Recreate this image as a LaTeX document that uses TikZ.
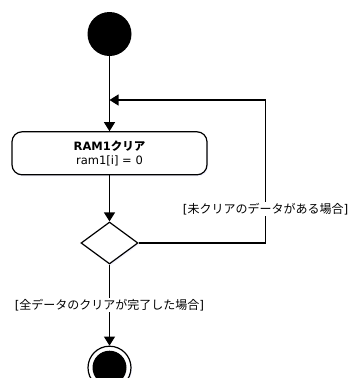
\documentclass[tikz,border=0pt]{standalone}
\usepackage{fontspec}
\setmainfont{DejaVu Sans}
\newfontfamily\jpfont{Noto Sans CJK JP}
\usetikzlibrary{positioning,shapes.geometric,arrows.meta,shadows}

\tikzset{
  glow/.style={drop shadow={shadow xshift=1pt, shadow yshift=-1.5pt, opacity=0.35, fill=blue!15}},
  startdot/.style={circle, fill=black, inner sep=0pt, minimum size=44pt},
  endring/.style={circle, draw, line width=1.2pt, fill=white, inner sep=0pt, minimum size=43pt, glow},
  enddot/.style={circle, fill=black, inner sep=0pt, minimum size=34pt},
  action/.style={draw, line width=1.2pt, fill=white, rounded corners=10pt, minimum width=195pt,
    minimum height=43pt, align=center, font=\fontsize{11.5}{14}\selectfont, glow},
  decision/.style={diamond, draw, line width=1.2pt, fill=white, inner sep=0pt, minimum width=57pt,
    minimum height=42pt, glow},
  guard/.style={fill=white, inner sep=1pt, font=\fontsize{12}{14}\selectfont},
  flow/.style={line width=1.2pt, -{Triangle[length=9pt,width=11pt]}},
}

\begin{document}
\begin{tikzpicture}[x=1pt, y=1pt]
  \useasboundingbox (0,0) rectangle (354,-378);

  % Define nodes
  \node[startdot]                     (start)  at (109.5,-34) {};
  \coordinate[below=66pt of start.center] (merge);
  \node[action, below=75pt of start]  (clear)  {\textbf{RAM1{\jpfont クリア}}\\ram1[i] = 0};
  \node[decision, below=46pt of clear] (branch) {};
  \node[endring, below=81pt of branch] (finish) {};
  \node[enddot]                       (finishdot) at (finish) {};
  \coordinate[right=156pt of merge]   (corner);

  % Connect the nodes
  \draw[flow] (start) -- (clear);
  \draw[flow] (clear) -- (branch);
  \draw[flow] (branch) -- node[guard] {[{\jpfont 全データのクリアが完了した場合}]} (finish);
  \draw[flow] (branch.east) -| node[guard, pos=0.62] {[{\jpfont 未クリアのデータがある場合}]} (corner) -- (merge);

\end{tikzpicture}
\end{document}
